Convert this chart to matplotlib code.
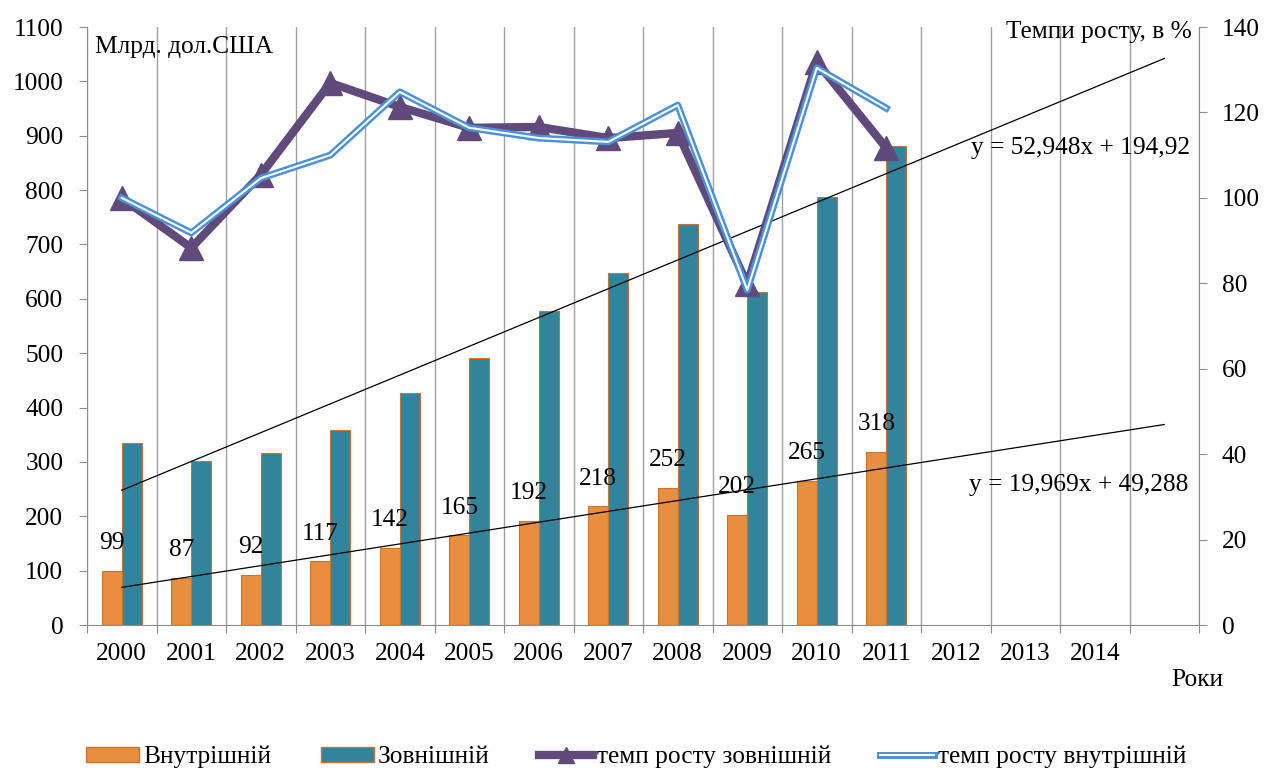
import matplotlib
matplotlib.use('Agg')
import matplotlib.pyplot as plt
import matplotlib.patheffects as pe
from matplotlib.lines import Line2D
from matplotlib.patches import Patch
import numpy as np

# ---- data ----
years = ['2000', '2001', '2002', '2003', '2004', '2005', '2006', '2007',
         '2008', '2009', '2010', '2011', '2012', '2013', '2014', '']
internal = [99, 87, 92, 117, 142, 165, 192, 218, 252, 202, 265, 318]
external = [335, 302, 316, 358, 427, 491, 578, 648, 738, 612, 788, 882]
growth_ext = [100.0, 88.3, 105.4, 126.9, 121.3, 116.4, 116.6, 114.0, 115.2, 79.8, 131.8, 111.7]
growth_int = [100.0, 91.8, 104.6, 110.0, 124.8, 116.4, 114.0, 113.1, 121.7, 78.4, 130.4, 121.0]
trend_ext = (52.948, 194.92)
trend_int = (19.969, 49.288)
left_ticks = list(range(0, 1101, 100))
right_ticks = list(range(0, 141, 20))

ORANGE = '#E98D3F'
TEAL = '#31849B'
EDGE = '#C8742F'
PURPLE = '#604A7B'
BLUE = '#4A90DA'
GRID = '#A0A0A0'
SPINE = '#8C8C8C'
FS = 18.3

plt.rcParams['font.family'] = ['Liberation Serif', 'DejaVu Serif']

W, H = 1266, 771
fig = plt.figure(figsize=(W / 100, H / 100), dpi=100)
L, R, T, B = 87, 1199, 27, 625
ax = fig.add_axes([L / W, 1 - B / H, (R - L) / W, (B - T) / H])

n = len(internal)
xi = np.arange(1, n + 1)
xall = np.arange(1, len(years) + 1)
w = 0.285

ax.bar(xi - w / 2, internal, w, color=ORANGE, edgecolor=EDGE, lw=0.8, zorder=2)
ax.bar(xi + w / 2, external, w, color=TEAL, edgecolor=EDGE, lw=0.8, zorder=2)

for xv, v in zip(xi, internal):
    ax.annotate(str(v), (xv - w / 2, v), xytext=(0, 20), textcoords='offset points',
                ha='center', va='center', fontsize=FS, zorder=5)

tx = np.array([1, len(years)])
ax.plot(tx, trend_ext[0] * tx + trend_ext[1], color='black', lw=0.9, zorder=3)
ax.plot(tx, trend_int[0] * tx + trend_int[1], color='black', lw=0.9, zorder=3)

ax.set_xlim(0.5, len(years) + 0.5)
ax.set_ylim(0, 1100)
ax.set_yticks(left_ticks)
ax.set_xticks(np.arange(0.5, len(years) + 1, 1))
ax.set_xticklabels([])
ax.set_xticks(xall, minor=True)
ax.set_xticklabels(years, minor=True)
ax.tick_params(axis='x', which='minor', length=0, labelsize=FS, pad=13)
ax.tick_params(axis='x', which='major', length=6, color=SPINE, direction='out')
ax.tick_params(axis='y', length=6, color=SPINE, labelsize=FS, pad=11)
ax.grid(axis='x', which='major', color=GRID, lw=1.0, zorder=0)
ax.set_axisbelow(True)
for s in ['top', 'right']:
    ax.spines[s].set_visible(False)
for s in ['left', 'bottom']:
    ax.spines[s].set_color(SPINE)

ax2 = ax.twinx()
ax2.set_ylim(0, 140)
ax2.set_yticks(right_ticks)
ax2.tick_params(axis='y', length=6, color=SPINE, labelsize=FS, pad=10.5)
for s in ['top', 'left', 'bottom']:
    ax2.spines[s].set_visible(False)
ax2.spines['right'].set_color(SPINE)

ax2.plot(xi, growth_ext, color=PURPLE, lw=6, marker='^', ms=17,
         mfc=PURPLE, mec=PURPLE, zorder=4)
ax2.plot(xi, growth_int, color='white', lw=1.5, zorder=5,
         path_effects=[pe.Stroke(linewidth=5, foreground=BLUE), pe.Normal()])

fig.text(95 / W, 1 - 47 / H, 'Млрд. дол.США', ha='left', va='center', fontsize=FS)
fig.text(1192 / W, 1 - 32 / H, 'Темпи росту, в %', ha='right', va='center', fontsize=FS)
fig.text(1197 / W, 1 - 680 / H, 'Роки', ha='center', va='center', fontsize=FS)
fig.text(1190 / W, 1 - 148 / H, 'y = 52,948x + 194,92', ha='right', va='center', fontsize=FS)
fig.text(1188 / W, 1 - 485 / H, 'y = 19,969x + 49,288', ha='right', va='center', fontsize=FS)

handles = [
    Patch(facecolor=ORANGE, edgecolor=EDGE),
    Patch(facecolor=TEAL, edgecolor=EDGE),
    Line2D([], [], color=PURPLE, lw=6, marker='^', ms=11, mfc=PURPLE, mec=PURPLE),
    Line2D([], [], color='white', lw=1.5,
           path_effects=[pe.Stroke(linewidth=5, foreground=BLUE), pe.Normal()]),
]
labels = ['Внутрішній', 'Зовнішній', 'темп росту зовнішній', 'темп росту внутрішній']
fig.legend(handles, labels, loc='center', bbox_to_anchor=(636 / W, 1 - 757 / H), ncol=4,
           frameon=False, fontsize=FS, handlelength=2.1, handleheight=0.55,
           handletextpad=0.15, columnspacing=1.95)

fig.savefig('out.png', dpi=100)
